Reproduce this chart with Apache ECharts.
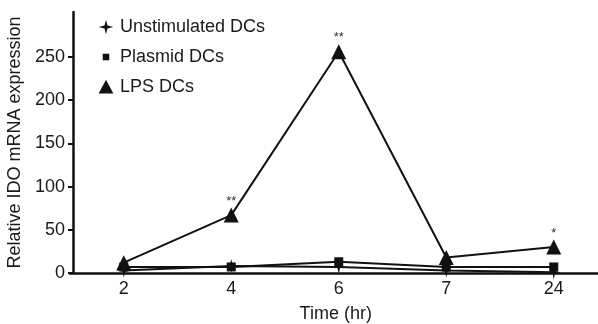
<!DOCTYPE html>
<html>
<head>
<meta charset="utf-8">
<script src="https://cdn.jsdelivr.net/npm/echarts@6/dist/echarts.min.js"></script>
<style>
  html, body { margin: 0; padding: 0; background: #fff; }
  #chart { width: 598px; height: 324px; }
</style>
</head>
<body>
<div id="chart"></div>
<script>
// time points (hr)
const categories = ["2", "4", "6", "7", "24"];
const unstimulated = [3, 8, 7, 3, 1];
const plasmid = [7, 7, 13, 7, 7];
const lps = [12, 67, 256, 18, 30];
// significance marks above the LPS points
const lpsStars = ["", "**", "**", "", "*"];
const yTicks = [0, 50, 100, 150, 200, 250];

const starSymbol = "path://M0,-10 L1.8,-1.8 L10,0 L1.8,1.8 L0,10 L-1.8,1.8 L-10,0 L-1.8,-1.8 Z";
// legend icons padded with empty moveTo points so they draw smaller
const legendStar = "path://M-11,-11 M11,11 M0,-9 L1.8,-1.8 L9,0 L1.8,1.8 L0,9 L-1.8,1.8 L-9,0 L-1.8,-1.8 Z";
const legendSquare = "path://M-11,-11 M11,11 M-4,-4 L4,-4 L4,4 L-4,4 Z";
const legendTriangle = "path://M-11,-11 M11,11 M0,-9 L9,8 L-9,8 Z";
const font = "Liberation Sans, Arial, sans-serif";

const myChart = echarts.init(document.getElementById("chart"));

const option = {
  animation: false,
  textStyle: { fontFamily: font },
  grid: {
    left: 70,
    top: 12,
    bottom: 51,
    right: -9.5,
    outerBoundsMode: "none"
  },
  legend: {
    orient: "vertical",
    left: 92,
    top: 13,
    itemGap: 12,
    itemWidth: 18,
    itemHeight: 18,
    textStyle: { fontSize: 18, color: "#1a1a1a", fontFamily: font },
    data: [
      { name: "Unstimulated DCs", icon: legendStar },
      { name: "Plasmid DCs", icon: legendSquare },
      { name: "LPS DCs", icon: legendTriangle }
    ]
  },
  xAxis: {
    type: "category",
    data: categories,
    name: "Time (hr)",
    nameLocation: "middle",
    nameGap: 32,
    nameTextStyle: { fontSize: 18, color: "#1a1a1a", padding: [0, 6, 0, 0] },
    axisLine: { lineStyle: { color: "#111", width: 2.5 } },
    axisTick: { alignWithLabel: true, length: 6, lineStyle: { color: "#111", width: 2 } },
    axisLabel: { fontSize: 18, color: "#1a1a1a", margin: 7 },
    splitLine: { show: false }
  },
  yAxis: {
    type: "value",
    min: 0,
    max: 302,
    interval: 50,
    offset: -3,
    name: "Relative IDO mRNA expression",
    nameLocation: "middle",
    nameGap: 45,
    nameTextStyle: { fontSize: 18, color: "#1a1a1a" },
    axisLine: { show: true, lineStyle: { color: "#111", width: 2.5 } },
    axisTick: { show: true, length: 5, lineStyle: { color: "#111", width: 2 }, customValues: yTicks },
    axisLabel: { fontSize: 18, color: "#1a1a1a", margin: 8, customValues: yTicks },
    splitLine: { show: false }
  },
  series: [
    {
      name: "Unstimulated DCs",
      type: "line",
      data: unstimulated,
      symbol: starSymbol,
      symbolSize: 14,
      lineStyle: { color: "#111", width: 2 },
      itemStyle: { color: "#111" },
      z: 3
    },
    {
      name: "Plasmid DCs",
      type: "line",
      data: plasmid,
      symbol: "rect",
      symbolSize: 9,
      lineStyle: { color: "#111", width: 2 },
      itemStyle: { color: "#111" },
      z: 3
    },
    {
      name: "LPS DCs",
      type: "line",
      data: lps.map((v, i) => ({
        value: v,
        label: {
          show: lpsStars[i] !== "",
          formatter: lpsStars[i],
          position: "top",
          distance: 0,
          fontSize: 13,
          color: "#333"
        }
      })),
      symbol: "triangle",
      symbolSize: 15,
      lineStyle: { color: "#111", width: 2 },
      itemStyle: { color: "#111" },
      z: 4
    }
  ]
};

myChart.setOption(option);
</script>
</body>
</html>
